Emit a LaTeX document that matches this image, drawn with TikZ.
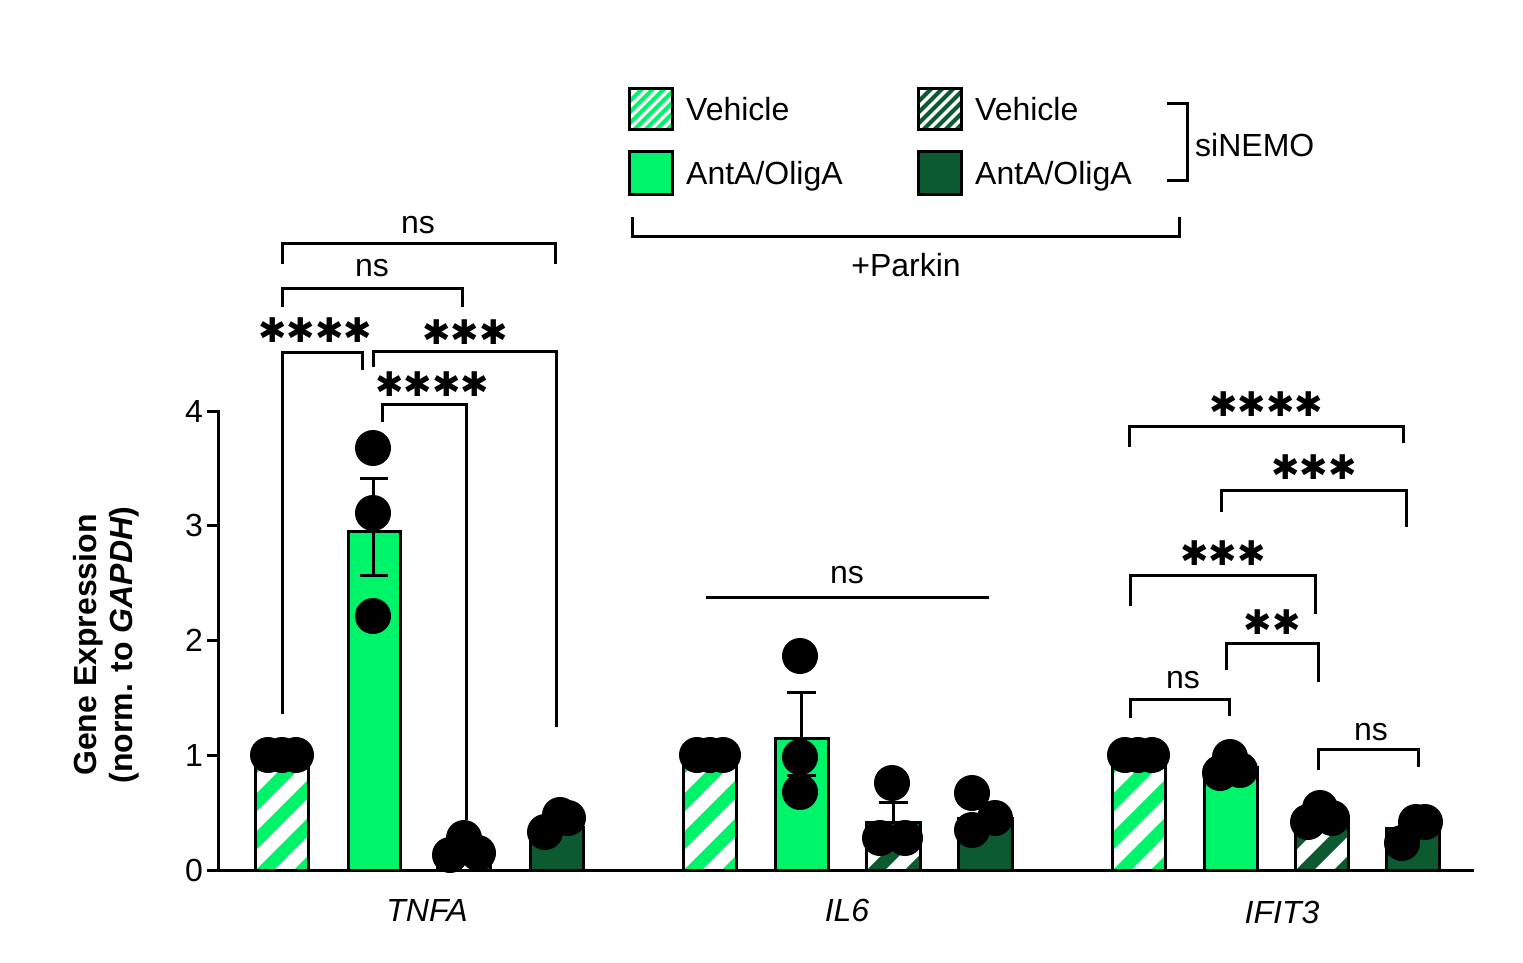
\documentclass[tikz,border=0pt]{standalone}
\usepackage{fontspec}
\setmainfont{Liberation Sans}
\newfontfamily\dejab{DejaVu Sans}
\definecolor{lg}{HTML}{00F46A}
\definecolor{dg}{HTML}{0B5A30}
\newcommand{\hbarr}[4]{%
  \begin{scope}
  \clip (#1,870) rectangle (#2,#3);
  \foreach \k in {-12,...,12}{\draw[line width=13pt,#4] ({#1+\k*38},880) -- ++(300,-300);}
  \end{scope}
  \draw[ln] (#1,870) -- (#1,#3) -- (#2,#3) -- (#2,870);}
\newcommand{\sbarr}[4]{\draw[ln,fill=#4] (#1,870) -- (#1,#3) -- (#2,#3) -- (#2,870);}
\newcommand{\dts}[6]{\fill (#1,#2) circle (18) (#3,#4) circle (18) (#5,#6) circle (18);}
\begin{document}
\begin{tikzpicture}[x=1pt,y=-1pt,ln/.style={line width=3pt,line cap=rect},
 lab/.style={font=\fontsize{32}{36}\selectfont,inner sep=0},
 st/.style={font=\dejab\fontsize{34}{36}\selectfont\bfseries,inner sep=0}]
\useasboundingbox (0,0) rectangle (1523,963);
% bars
\hbarr{255}{308}{755}{lg}
\sbarr{348}{400}{531}{lg}
\hbarr{437}{490}{852}{dg}
\sbarr{530}{583}{827}{dg}
\hbarr{683}{736}{755}{lg}
\sbarr{775}{828}{738}{lg}
\hbarr{866}{920}{822}{dg}
\sbarr{958}{1012}{818}{dg}
\hbarr{1112}{1165}{755}{lg}
\sbarr{1204}{1257}{767}{lg}
\hbarr{1295}{1348}{818}{dg}
\sbarr{1386}{1439}{828}{dg}
% error bars
\draw[ln] (373,575)--(373,478) (361,478)--(386,478) (361,575)--(386,575);
\draw[ln] (801,775)--(801,692) (788,692)--(814,692) (788,775)--(814,775);
\draw[ln] (893,822)--(893,802) (880,802)--(906,802);
% dots
\dts{268}{755}{282}{755}{296}{755}
\dts{373}{448}{373}{513}{373}{616}
\dts{464}{838}{450}{855}{478}{853}
\dts{545}{832}{560}{815}{568}{818}
\dts{697}{755}{710}{755}{723}{755}
\dts{800}{656}{800}{757}{800}{792}
\dts{892}{783}{880}{838}{905}{838}
\dts{972}{793}{972}{830}{995}{818}
\dts{1125}{755}{1138}{755}{1152}{755}
\dts{1230}{757}{1220}{773}{1240}{770}
\dts{1320}{808}{1308}{822}{1332}{818}
\dts{1416}{822}{1402}{843}{1425}{822}
% axes
\draw[ln] (218,411) -- (218,870) -- (1472,870);
\foreach \v in {0,...,4}{
  \draw[ln] (208,{870-114.75*\v}) -- (218,{870-114.75*\v});
  \node[lab,anchor=east] (t\v) at (203,{870-114.75*\v}) {\v};}
\node[lab,font=\fontsize{32}{36}\selectfont\bfseries,rotate=90] (yl1) at (88,645) {Gene Expression};
\node[lab,font=\fontsize{32}{36}\selectfont\bfseries,rotate=90] (yl2) at (124,645) {(norm. to \textit{GAPDH})};
\node[lab,font=\fontsize{32}{36}\selectfont\itshape] (c1) at (427,910) {TNFA};
\node[lab,font=\fontsize{32}{36}\selectfont\itshape] (c2) at (847,910) {IL6};
\node[lab,font=\fontsize{32}{36}\selectfont\itshape] (c3) at (1282,912) {IFIT3};
% TNFA brackets
\draw[ln] (282,262)--(282,243)--(555,243)--(555,262);
\node[lab] (n1) at (418,225) {ns};
\draw[ln] (282,305)--(282,288)--(462,288)--(462,305);
\node[lab] (n2) at (372,268) {ns};
\draw[ln] (282,712)--(282,352)--(362,352)--(362,368);
\node[st] (s1) at (315,330) {✱✱✱✱};
\draw[ln] (373,365)--(373,351)--(556,351)--(556,725);
\node[st] (s2) at (465,332) {✱✱✱};
\draw[ln] (382,420)--(382,404)--(466,404)--(466,818);
\node[st] (s3) at (432,384) {✱✱✱✱};
% IL6
\draw[ln] (707,597)--(987,597);
\node[lab] (n3) at (847,575) {ns};
% IFIT3
\draw[ln] (1129,445)--(1129,426)--(1403,426)--(1403,441);
\node[st] (s4) at (1266,404) {✱✱✱✱};
\draw[ln] (1221,510)--(1221,490)--(1406,490)--(1406,525);
\node[st] (s5) at (1314,467) {✱✱✱};
\draw[ln] (1130,604)--(1130,575)--(1315,575)--(1315,612);
\node[st] (s6) at (1223,553) {✱✱✱};
\draw[ln] (1226,668)--(1226,643)--(1318,643)--(1318,680);
\node[st] (s7) at (1272,622) {✱✱};
\draw[ln] (1130,716)--(1130,699)--(1229,699)--(1229,714);
\node[lab] (n4) at (1183,680) {ns};
\draw[ln] (1318,768)--(1318,749)--(1418,749)--(1418,765);
\node[lab] (n5) at (1371,732) {ns};
% legend
\begin{scope}
\clip (629,89) rectangle (672,130);
\foreach \k in {-3,...,3}{\draw[line width=4pt,lg] ({629+\k*11},135) -- ++(60,-60);}
\end{scope}
\draw[ln] (629,89) rectangle (672,130);
\draw[ln,fill=lg] (629,152) rectangle (672,194);
\begin{scope}
\clip (918,89) rectangle (961,130);
\foreach \k in {-3,...,3}{\draw[line width=4pt,dg] ({918+\k*11},135) -- ++(60,-60);}
\end{scope}
\draw[ln] (918,89) rectangle (961,130);
\draw[ln,fill=dg] (918,152) rectangle (961,194);
\node[lab,anchor=west] (l1) at (686,109) {Vehicle};
\node[lab,anchor=west] (l2) at (686,176) {AntA/OligA};
\node[lab,anchor=west] (l3) at (975,109) {Vehicle};
\node[lab,anchor=west] (l4) at (975,176) {AntA/OligA};
\draw[ln] (1168,104)--(1187,104)--(1187,180)--(1168,180);
\node[lab,anchor=west] (l5) at (1195,145) {siNEMO};
\draw[ln] (632,218)--(632,236)--(1179,236)--(1179,218);
\node[lab] (l6) at (906,265) {+Parkin};
\end{tikzpicture}
\end{document}
